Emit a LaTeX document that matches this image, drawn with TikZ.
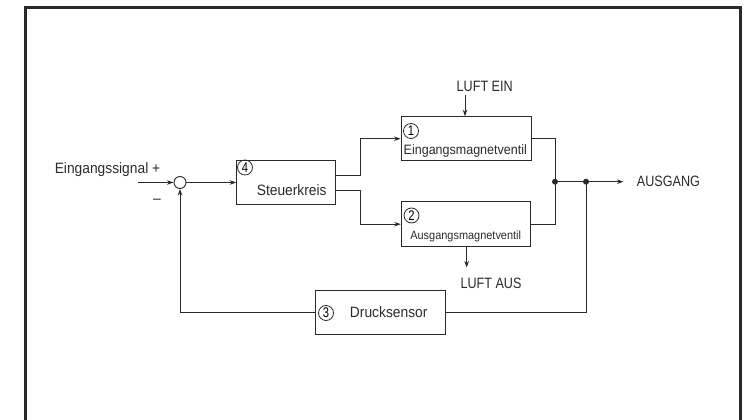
\documentclass[tikz,border=0pt]{standalone}
\usepackage{fontspec}
\setmainfont{Liberation Sans}
\newfontfamily\condfont[FakeStretch=0.92]{Liberation Sans}
\newfontfamily\capfont[FakeStretch=0.84]{Liberation Sans}
\newfontfamily\numfont[FakeStretch=0.8]{Liberation Sans}
\usetikzlibrary{arrows.meta}
\definecolor{ink}{HTML}{2A2A2A}
\tikzset{
  x=1pt, y=-1pt,
  conn/.style={draw=ink, line width=0.9pt},
  arr/.style={conn, -{Stealth[length=6.5pt,width=4.5pt]}},
  blk/.style={draw=ink, line width=0.9pt, rectangle, inner sep=0pt},
  num/.style={draw=ink, line width=0.8pt, circle, minimum size=15pt, inner sep=0pt, font=\numfont\fontsize{14}{15}\selectfont},
  lbl/.style={inner sep=0pt, text=ink, font=\condfont\fontsize{15}{17}\selectfont},
  caplbl/.style={inner sep=0pt, text=ink, font=\capfont\fontsize{15}{17}\selectfont},
  dot/.style={circle, fill=ink, minimum size=6pt, inner sep=0pt},
}
\begin{document}
\begin{tikzpicture}
\useasboundingbox (0,0) rectangle (747,420);
\begin{scope}
\clip (0,0) rectangle (747,420);
\draw[draw=ink, line width=3pt] (25.5,440) -- (25.5,7.8) -- (740,7.8) -- (740,440);
\end{scope}

% blocks
\node[blk, minimum width=98.3pt, minimum height=43.6pt] (ctrl) at (285.8,182.5) {};
\node[blk, minimum width=130pt, minimum height=44pt] (v1) at (466,138.7) {};
\node[blk, minimum width=129.5pt, minimum height=45pt] (v2) at (466,224.2) {};
\node[blk, minimum width=130.7pt, minimum height=44pt] (sens) at (380.3,312) {};
\node[draw=ink, line width=0.9pt, circle, minimum size=12pt, inner sep=0pt] (sum) at (180,182.5) {};

% block contents
\node[num] (n4) at (245,167.5) {4};
\node[lbl] (t4) at (291.7,190.5) {Steuerkreis};
\node[num] (n1) at (411,131) {1};
\node[lbl, font=\condfont\fontsize{13.6}{15}\selectfont] (t1) at (465.3,150.5) {Eingangsmagnetventil};
\node[num] (n2) at (411.5,215.5) {2};
\node[lbl, font=\condfont\fontsize{11.9}{14}\selectfont] (t2) at (465.7,236.5) {Ausgangsmagnetventil};
\node[num] (n3) at (326,313) {3};
\node[lbl] (t3) at (388.7,312.5) {Drucksensor};

% outside labels
\node[lbl] (insig) at (107.5,169.5) {Eingangssignal +};
\node[lbl] (minus) at (157,201.5) {–};
\node[caplbl] (luftein) at (484.7,86.7) {LUFT EIN};
\node[caplbl] (luftaus) at (491,283.5) {LUFT AUS};
\node[caplbl, anchor=west] (ausg) at (636.7,181.5) {AUSGANG};

% coordinates
\coordinate (in) at (138,182.5);
\coordinate (dot1) at (555,181.7);
\coordinate (dot2) at (586,181.7);
\coordinate (outend) at (623.5,181.7);
\coordinate (einstart) at (465,95);
\coordinate (ausend) at (466.7,267.5);
\node[dot] (d1) at (dot1) {};
\node[dot] (d2) at (dot2) {};

% connectors
\draw[arr] (in) -- (sum.west);
\draw[arr] (sum.east) -- (ctrl.west);
\draw[arr] (ctrl.east |- 0,175) -- (360,175) -- (360,138.7) -- (v1.west);
\draw[arr] (ctrl.east |- 0,190) -- (360,190) -- (360,224.2) -- (v2.west);
\draw[conn] (v1.east) -- (dot1 |- v1.east) -- (d1.center);
\draw[conn] (v2.east) -- (dot1 |- v2.east) -- (d1.center);
\draw[conn] (d1.center) -- (d2.center);
\draw[arr] (d2.center) -- (outend);
\draw[conn] (d2.center) -- (dot2 |- sens.east) -- (sens.east);
\draw[arr] (sens.west) -- (sum |- sens.west) -- (sum.south);
\draw[arr] (einstart) -- (einstart |- v1.north);
\draw[arr] (ausend |- v2.south) -- (ausend);
\end{tikzpicture}
\end{document}
